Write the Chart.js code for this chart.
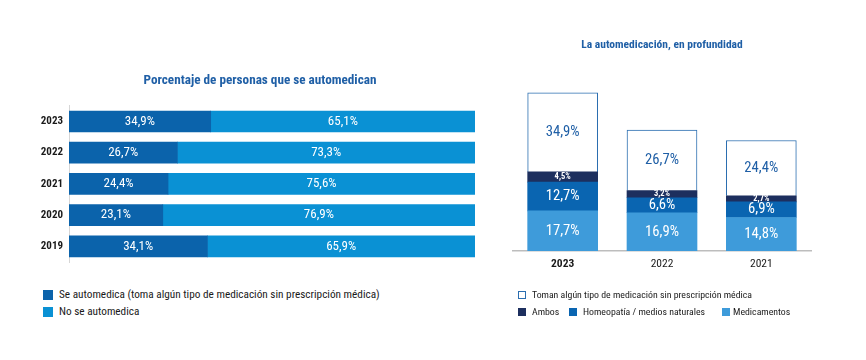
<!DOCTYPE html>
<html>
<head>
<meta charset="utf-8">
<script src="https://cdn.jsdelivr.net/npm/chart.js@4.4.1/dist/chart.umd.min.js"></script>
<style>
  html, body { margin: 0; padding: 0; background: #fff; }
  body { width: 866px; height: 360px; position: relative; overflow: hidden; font-family: "Roboto Condensed", "Liberation Sans", sans-serif; }
  #c1 { position: absolute; left: 0; top: 0; }
  #c2 { position: absolute; left: 500px; top: 0; }
  .leg { position: absolute; color: #1a1a1a; white-space: nowrap; }
  .leg .it { position: absolute; display: flex; align-items: center; }
  .leg .sw { display: inline-block; box-sizing: border-box; }
</style>
</head>
<body>
<canvas id="c1" width="520" height="280"></canvas>
<canvas id="c2" width="324" height="280"></canvas>
<div id="leg1" class="leg"></div>
<div id="leg2" class="leg"></div>
<script>
// ---- Data: left chart ----
const years1 = ['2023', '2022', '2021', '2020', '2019'];
const seAutomedica = [34.9, 26.7, 24.4, 23.1, 34.1];
const noSeAutomedica = [65.1, 73.3, 75.6, 76.9, 65.9];
const leftSeriesNames = ['Se automedica (toma algún tipo de medicación sin prescripción médica)', 'No se automedica'];
const leftTitle = 'Porcentaje de personas que se automedican';

// ---- Data: right chart ----
const years2 = ['2023', '2022', '2021'];
const medicamentos = [17.7, 16.9, 14.8];
const homeopatia = [12.7, 6.6, 6.9];
const ambos = [4.5, 3.2, 2.7];
const tomanTotal = [34.9, 26.7, 24.4];
const rightSeriesNames = ['Toman algún tipo de medicación sin prescripción médica', 'Ambos', 'Homeopatía / medios naturales', 'Medicamentos'];
const rightTitle = 'La automedicación, en profundidad';

const FONT = '"Roboto Condensed", "Liberation Sans", sans-serif';
const TITLE_COLOR = '#1f5fa6';
const C_DARK = '#0b63ab';
const C_LIGHT = '#0a91d4';
const C_NAVY = '#1d2f5e';
const C_HOMEO = '#0a65b1';
const C_MED = '#3e9bda';
const C_BORDER = '#2b6eb0';

const fmt = v => v.toFixed(1).replace('.', ',') + '%';

const labelPlugin = {
  id: 'segLabels',
  afterDatasetsDraw(chart, args, opts) {
    const ctx = chart.ctx;
    ctx.save();
    ctx.textAlign = 'center';
    ctx.textBaseline = 'middle';
    chart.data.datasets.forEach((ds, di) => {
      const st = opts.styles[di];
      if (!st) return;
      const meta = chart.getDatasetMeta(di);
      meta.data.forEach((el, i) => {
        const p = el.getCenterPoint();
        ctx.font = st.font;
        ctx.fillStyle = st.color;
        ctx.fillText(fmt(ds.data[i]), p.x, p.y + (st.dy || 0));
      });
    });
    ctx.restore();
  }
};

// ---- Left chart ----
new Chart(document.getElementById('c1'), {
  type: 'bar',
  data: {
    labels: years1,
    datasets: [
      { label: leftSeriesNames[0], data: seAutomedica, backgroundColor: C_DARK, barThickness: 21 },
      { label: leftSeriesNames[1], data: noSeAutomedica, backgroundColor: C_LIGHT, barThickness: 21 }
    ]
  },
  options: {
    indexAxis: 'y',
    responsive: false,
    animation: false,
    layout: { padding: { left: 0, right: 0, top: 0, bottom: 18 } },
    scales: {
      x: { stacked: true, min: 0, max: 100, display: false },
      y: {
        stacked: true,
        grid: { display: false, drawTicks: false },
        border: { display: true, color: '#d6d6d6', width: 1 },
        ticks: {
          padding: 6,
          color: '#1a1a1a',
          font: c => ({ family: FONT, size: 11, weight: 'bold' })
        },
        afterFit: s => { s.width = 69; }
      },
      yRight: {
        type: 'category',
        axis: 'y',
        position: 'right',
        display: true,
        grid: { display: false, drawTicks: false },
        border: { display: false },
        ticks: { display: false },
        afterFit: s => { s.width = 45; }
      }
    },
    plugins: {
      legend: { display: false },
      tooltip: { enabled: false },
      title: {
        display: true,
        text: leftTitle,
        color: TITLE_COLOR,
        font: { family: FONT, size: 13.2, weight: 'bold' },
        padding: { top: 73, bottom: 17 }
      },
      segLabels: {
        styles: {
          0: { font: '13px ' + FONT, color: '#ffffff' },
          1: { font: '13px ' + FONT, color: '#ffffff' }
        }
      }
    }
  },
  plugins: [labelPlugin]
});

// ---- Right chart ----
new Chart(document.getElementById('c2'), {
  type: 'bar',
  data: {
    labels: years2,
    datasets: [
      { label: rightSeriesNames[3], data: medicamentos, backgroundColor: C_MED, barThickness: 70 },
      { label: rightSeriesNames[2], data: homeopatia, backgroundColor: C_HOMEO, barThickness: 70 },
      { label: rightSeriesNames[1], data: ambos, backgroundColor: C_NAVY, barThickness: 70 },
      { label: rightSeriesNames[0], data: tomanTotal, backgroundColor: '#ffffff', borderColor: C_BORDER, borderWidth: 1, barThickness: 70 }
    ]
  },
  options: {
    responsive: false,
    animation: false,
    layout: { padding: { left: 13, right: 13, top: 0, bottom: 0 } },
    scales: {
      y: { stacked: true, min: 0, max: 80, display: false },
      x: {
        stacked: true,
        grid: { display: false, drawTicks: false },
        border: { display: true, color: '#bdbdbd', width: 1.5 },
        ticks: {
          padding: 6,
          color: '#1a1a1a',
          font: c => ({ family: FONT, size: 11.5, weight: c.index === 0 ? 'bold' : 'normal' })
        },
        afterFit: s => { s.height = 29; }
      }
    },
    plugins: {
      legend: { display: false },
      tooltip: { enabled: false },
      title: {
        display: true,
        text: rightTitle,
        color: TITLE_COLOR,
        font: { family: FONT, size: 11.5, weight: 'bold' },
        padding: { top: 38, bottom: 18 }
      },
      segLabels: {
        styles: {
          0: { font: '14.7px ' + FONT, color: '#ffffff' },
          1: { font: '14.7px ' + FONT, color: '#ffffff' },
          2: { font: 'bold 8.5px ' + FONT, color: '#ffffff' },
          3: { font: '14.7px ' + FONT, color: '#1f5fa6' }
        }
      }
    }
  },
  plugins: [labelPlugin]
});

// ---- HTML legends ----
function addItem(host, x, y, name, fill, border, size, fontSize, gap) {
  const it = document.createElement('div');
  it.className = 'it';
  it.style.left = x + 'px';
  it.style.top = y + 'px';
  it.style.fontSize = fontSize + 'px';
  const sw = document.createElement('span');
  sw.className = 'sw';
  sw.style.width = size + 'px';
  sw.style.height = size + 'px';
  sw.style.background = fill;
  sw.style.border = border ? ('1px solid ' + border) : 'none';
  sw.style.marginRight = gap + 'px';
  const tx = document.createElement('span');
  tx.textContent = name;
  it.appendChild(sw);
  it.appendChild(tx);
  host.appendChild(it);
}
const leg1 = document.getElementById('leg1');
addItem(leg1, 43, 288, leftSeriesNames[0], C_DARK, null, 10, 11.25, 6);
addItem(leg1, 43, 305, leftSeriesNames[1], C_LIGHT, null, 10, 11.25, 6);
const leg2 = document.getElementById('leg2');
addItem(leg2, 518, 289, rightSeriesNames[0], '#ffffff', C_BORDER, 8, 9.8, 6);
addItem(leg2, 518, 306, rightSeriesNames[1], C_NAVY, null, 8, 9.8, 6);
addItem(leg2, 569, 306, rightSeriesNames[2], C_HOMEO, null, 8, 9.8, 6);
addItem(leg2, 722, 306, rightSeriesNames[3], C_MED, null, 8, 9.8, 3);
</script>
</body>
</html>
